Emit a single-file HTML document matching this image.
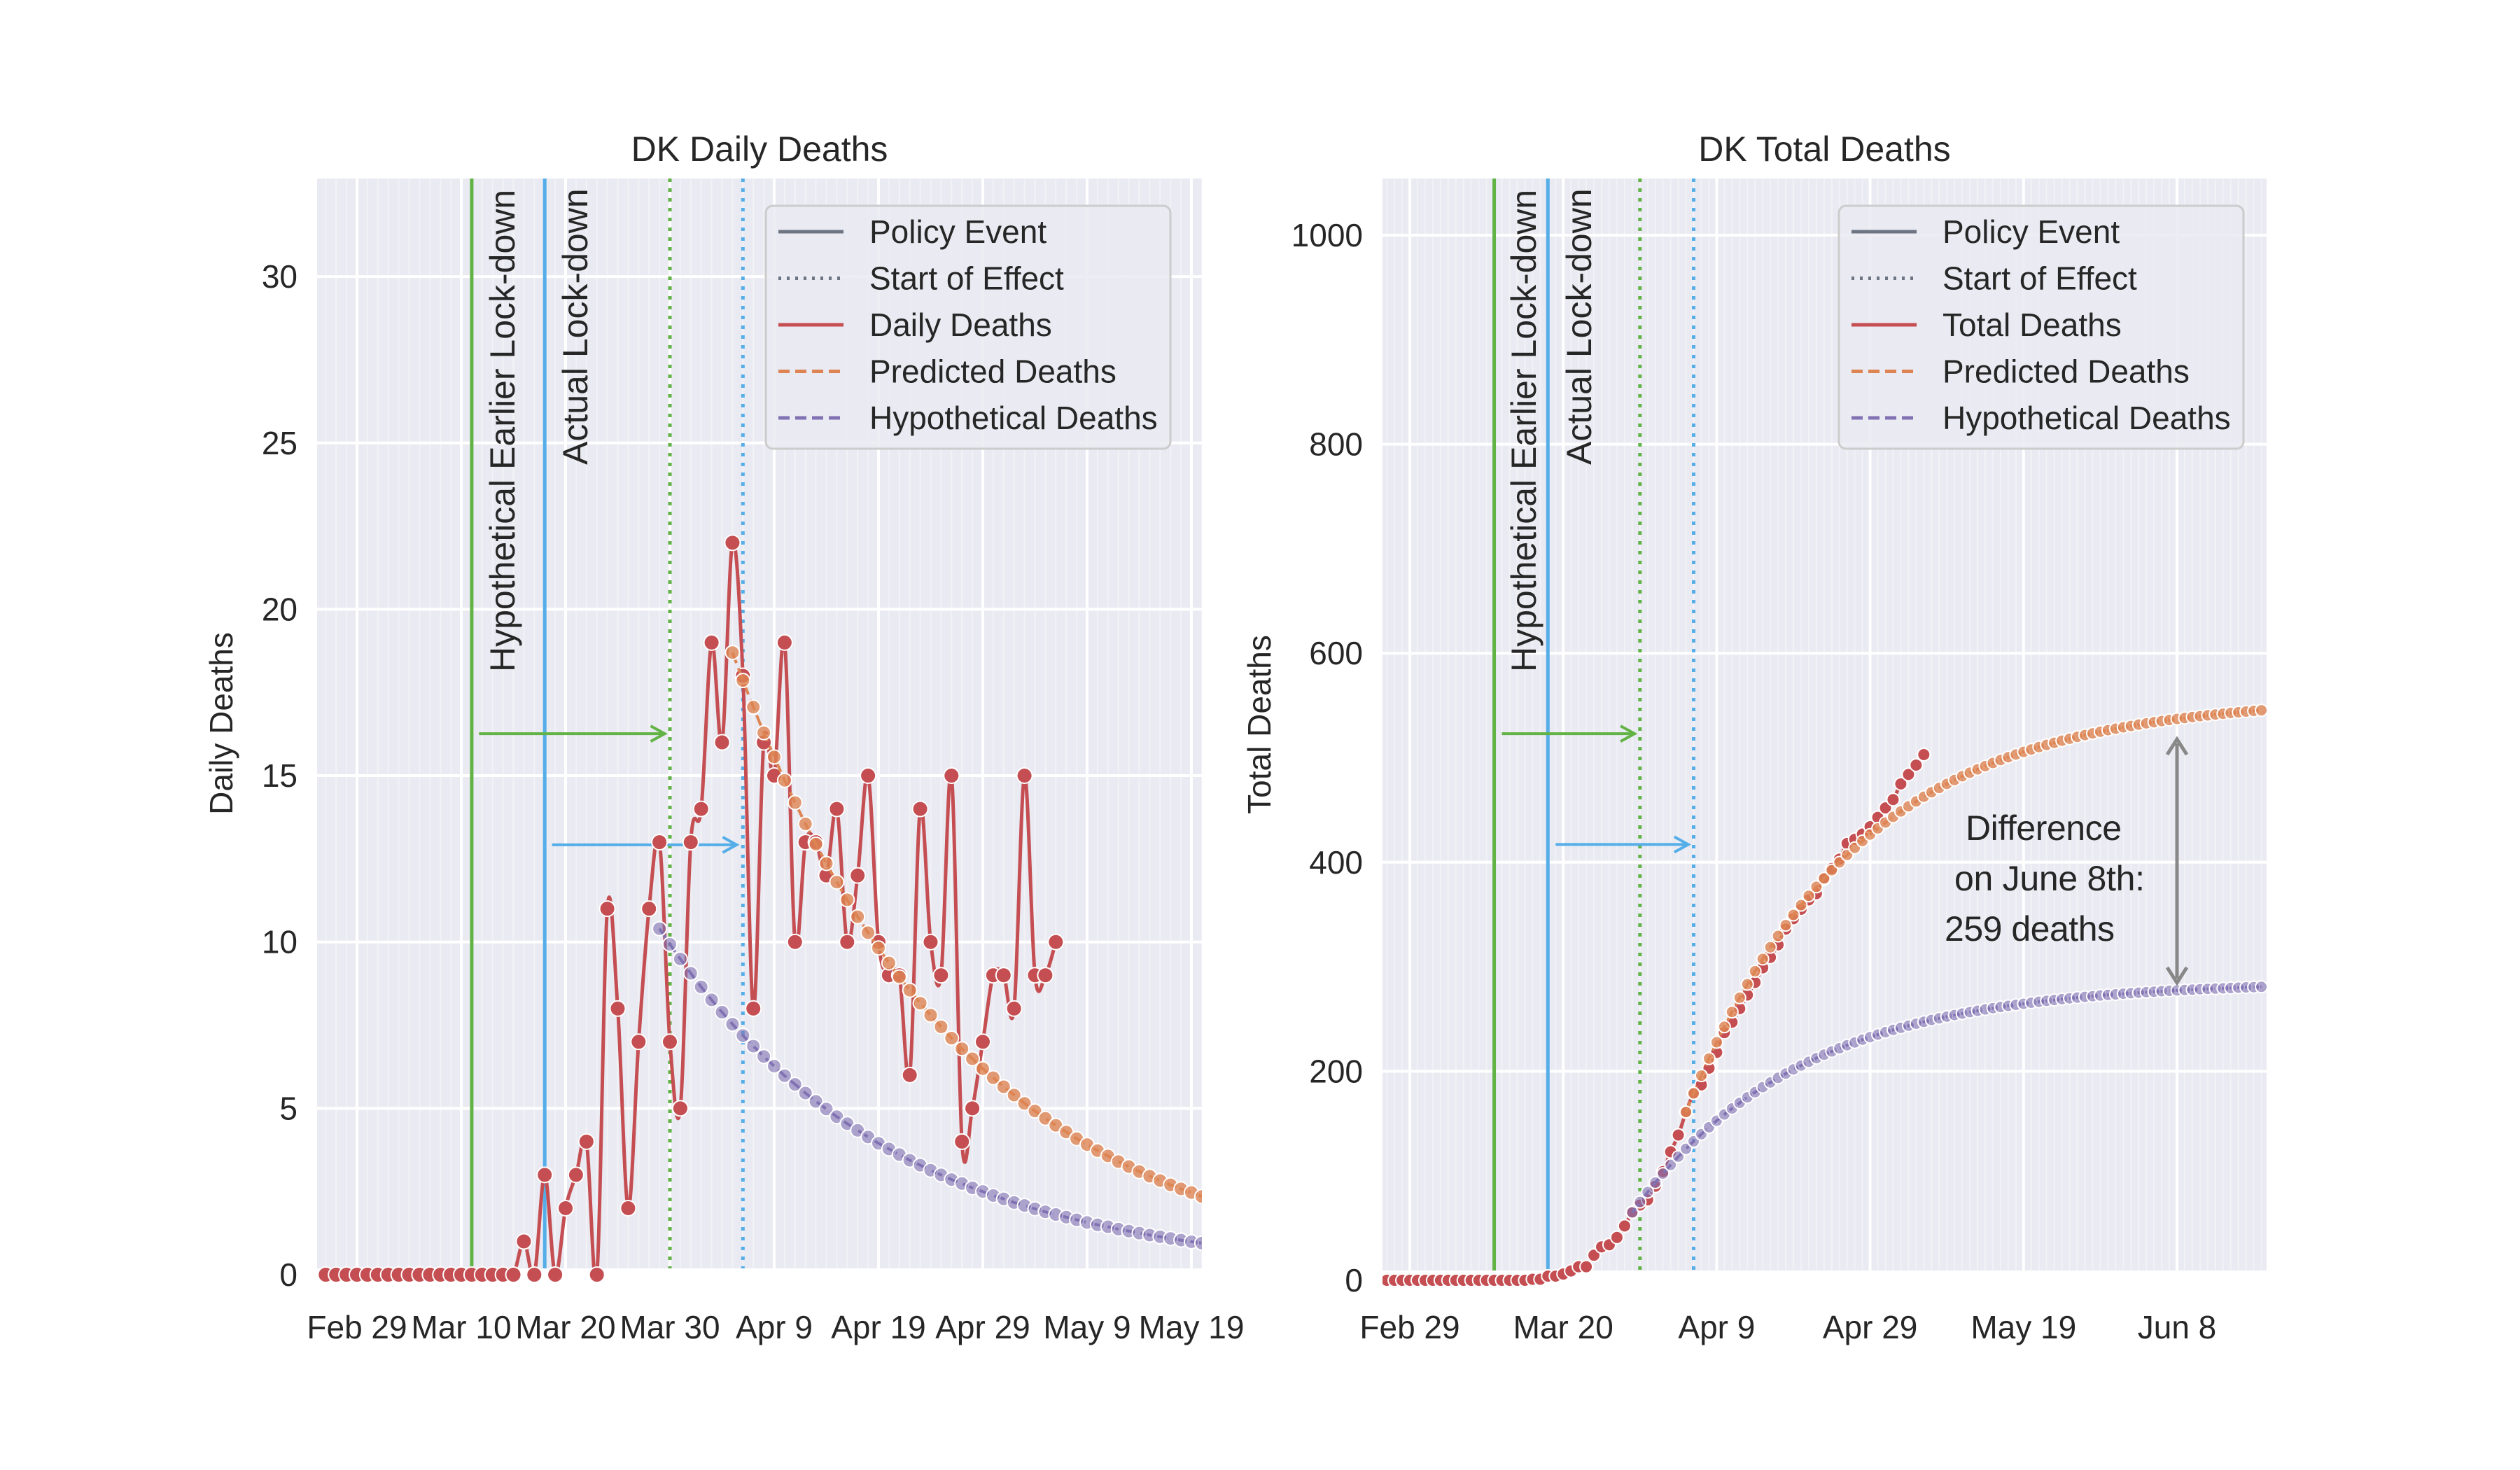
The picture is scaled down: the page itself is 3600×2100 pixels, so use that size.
<!DOCTYPE html>
<html><head><meta charset="utf-8"><style>
html,body{margin:0;padding:0;background:#fff;}
svg{display:block;font-family:"Liberation Sans",Arial,sans-serif;}
</style></head><body>
<svg id="fig" width="3600" height="2100" viewBox="0 0 3600 2100" xmlns="http://www.w3.org/2000/svg">
<defs>
<clipPath id="clipL"><rect x="453" y="255" width="1264" height="1557"/></clipPath>
<clipPath id="clipR"><rect x="1975" y="255" width="1263" height="1560"/></clipPath>
<clipPath id="clipLs"><rect x="453" y="255" width="1264" height="1620"/></clipPath>
<clipPath id="clipRs"><rect x="1975" y="255" width="1263" height="1620"/></clipPath>
</defs>
</svg>
<script>
// ---------- data (day index relative to Feb 29) ----------
const dailyStart = -3;
const dailyDeaths = [0,0,0,0,0,0,0,0,0,0,0,0,0,0,0,0,0,0,0,
1,0,3,0,2,3,4,0,11,8,2,7,11,13,7,5,13,14,19,16,22,18,8,16,15,19,10,13,13,12,14,10,12,15,10,9,9,6,14,10,9,15,4,5,7,9,9,8,15,9,9,10];
const predStart = 36;
const predictedDaily = [18.7,17.86,17.06,16.29,15.56,14.86,14.19,13.55,12.94,12.36,11.80,11.27,10.76,10.28,9.82,9.37,8.95,8.55,8.16,7.80,7.45,7.11,6.79,6.49,6.19,5.92,5.65,5.40,5.15,4.92,4.70,4.49,4.29,4.09,3.91,3.73,3.57,3.40,3.25,3.10,2.96,2.83,2.70,2.58,2.47,2.35];
const hypoStart = 29;
const hypotheticalDaily = [10.4,9.93,9.49,9.06,8.65,8.26,7.89,7.53,7.19,6.87,6.56,6.27,5.98,5.72,5.46,5.21,4.98,4.75,4.54,4.34,4.14,3.95,3.78,3.61,3.44,3.29,3.14,3.00,2.86,2.74,2.61,2.50,2.38,2.28,2.17,2.08,1.98,1.89,1.81,1.73,1.65,1.57,1.50,1.44,1.37,1.31,1.25,1.19,1.14,1.09,1.04,0.99,0.95];
const totalDeaths = [0,0,0,0,0,0,0,0,0,0,0,0,0,0,0,0,0,0,0,
1,1,4,4,6,9,13,13,24,32,34,41,52,65,72,77,90,104,123,139,161,179,187,203,218,237,247,260,273,285,299,309,321,336,346,355,364,370,384,394,403,418,422,427,434,443,452,460,475,484,493,503];
const predictedTotal = [161,178.9,195.9,212.2,227.8,242.6,256.8,270.4,283.3,295.7,307.5,318.7,329.5,339.8,349.6,359.0,367.9,376.5,384.6,392.4,399.9,407.0,413.8,420.3,426.5,432.4,438.0,443.4,448.6,453.5,458.2,462.7,467.0,471.1,475.0,478.7,482.3,485.7,488.9,492.0,495.0,497.8,500.5,503.1,505.6,507.9,510.2,512.3,514.3,516.3,518.2,520.0,521.7,523.3,524.9,526.4,527.8,529.1,530.4,531.7,532.9,534.0,535.1,536.1,537.1,538.0,538.9,539.8,540.6,541.4,542.1,542.9,543.5,544.2,544.8,545.4];
const hypotheticalTotal = [65,74.9,84.4,93.5,102.1,110.4,118.3,125.8,133.0,139.8,146.4,152.7,158.7,164.4,169.8,175.1,180.0,184.8,189.3,193.7,197.8,201.8,205.5,209.1,212.6,215.9,219.0,222.0,224.9,227.6,230.2,232.7,235.1,237.4,239.6,241.6,243.6,245.5,247.3,249.1,250.7,252.3,253.8,255.2,256.6,257.9,259.2,260.4,261.5,262.6,263.6,264.6,265.6,266.5,267.4,268.2,269.0,269.8,270.5,271.2,271.8,272.5,273.1,273.6,274.2,274.7,275.2,275.7,276.1,276.6,277.0,277.4,277.8,278.1,278.5,278.8,279.1,279.4,279.7,280.0,280.3,280.5,280.8];
const policyDays = [11, 18];
const effectDays = [30, 37];
const xTickDaysL = [0,10,20,30,40,50,60,70,80];
const xTickLabelsL = ["Feb 29","Mar 10","Mar 20","Mar 30","Apr 9","Apr 19","Apr 29","May 9","May 19"];
const xTickDaysR = [0,20,40,60,80,100];
const xTickLabelsR = ["Feb 29","Mar 20","Apr 9","Apr 29","May 19","Jun 8"];
const yTicksL = [0,5,10,15,20,25,30];
const yTicksR = [0,200,400,600,800,1000];

const NS="http://www.w3.org/2000/svg";
const svg=document.getElementById('fig');
function el(tag,attrs,parent,text){const e=document.createElementNS(NS,tag);for(const k in attrs)e.setAttribute(k,attrs[k]);if(text!==undefined)e.textContent=text;(parent||svg).appendChild(e);return e;}

const C={red:'#c44e52',orange:'#dd8452',purple:'#8172b3',green:'#62b346',blue:'#56aee8',gray:'#6e7582',text:'#262626'};

function smoothPath(pts){
  if(pts.length<2)return '';
  let d='M'+pts[0][0]+','+pts[0][1];
  for(let i=0;i<pts.length-1;i++){
    const p0=pts[i-1]||pts[i],p1=pts[i],p2=pts[i+1],p3=pts[i+2]||p2;
    const c1x=p1[0]+(p2[0]-p0[0])/6,c1y=p1[1]+(p2[1]-p0[1])/6;
    const c2x=p2[0]-(p3[0]-p1[0])/6,c2y=p2[1]-(p3[1]-p1[1])/6;
    d+=' C'+c1x.toFixed(1)+','+c1y.toFixed(1)+' '+c2x.toFixed(1)+','+c2y.toFixed(1)+' '+p2[0].toFixed(1)+','+p2[1].toFixed(1);
  }
  return d;
}
function linePath(pts){return pts.map((p,i)=>(i?'L':'M')+p[0].toFixed(1)+','+p[1].toFixed(1)).join(' ');}

function buildPanel(cfg){
  const g=el('g',{});
  
  
  const {x0,x1,y0,y1,xs,ys}=cfg;
  const bg=el('rect',{x:x0,y:y0,width:x1-x0,height:y1-y0,fill:'#eaeaf2'},g);
  
  
  const mg=el('g',{'clip-path':'url(#'+cfg.clip+')'},g);
  
  
  for(let d=-10;d<130;d++){const x=xs(d);if(x<x0||x>x1)continue;el('line',{x1:x,x2:x,y1:y0,y2:y1,stroke:'#ffffff','stroke-opacity':0.35,'stroke-width':2},mg);}
  cfg.yTicks.forEach(v=>{const y=ys(v);
    if(y<=y1){
      const l=el('line',{x1:x0,x2:x1,y1:y,y2:y,stroke:'#fff','stroke-width':4},g);
      
      
    }
    const t=el('text',{x:x0-28,y:y+16,'text-anchor':'end','font-size':46,fill:C.text},g,String(v));
    
    
  });
  cfg.xTickDays.forEach((d,i)=>{const x=xs(d);
    const l=el('line',{x1:x,x2:x,y1:y0,y2:y1,stroke:'#fff','stroke-width':4},g);
    
    
    const t=el('text',{x:x,y:1912,'text-anchor':'middle','font-size':46,fill:C.text},g,cfg.xTickLabels[i]);
    
    
  });
  const inner=el('g',{'clip-path':'url(#'+cfg.clip+')'},g);
  [C.green,C.blue].forEach((col,i)=>{
    const l=el('line',{x1:xs(policyDays[i]),x2:xs(policyDays[i]),y1:y0,y2:y1,stroke:col,'stroke-width':5},inner);
    
    
    const e=el('line',{x1:xs(effectDays[i]),x2:xs(effectDays[i]),y1:y0,y2:y1,stroke:col,'stroke-width':5,'stroke-dasharray':'5,9'},inner);
    
    
  });
  cfg.arrows.forEach((a,i)=>{
    const col=i?C.blue:C.green;const xa=xs(a[0]),xb=xs(a[1]),y=ys(a[2]);
    const ag=el('g',{},inner);
    
    
    el('line',{x1:xa,x2:xb-4,y1:y,y2:y,stroke:col,'stroke-width':4},ag);
    el('path',{d:`M${xb-20},${y-11} L${xb},${y} L${xb-20},${y+11}`,fill:'none',stroke:col,'stroke-width':4},ag);
  });
  const t1=el('text',{transform:`translate(${cfg.lab1x},960) rotate(-90)`,'font-size':50,fill:C.text},g,'Hypothetical Earlier Lock-down');
  
  
  const t2=el('text',{transform:`translate(${cfg.lab2x},664) rotate(-90)`,'font-size':50,fill:C.text},g,'Actual Lock-down');
  
  
  const sInner=el('g',{'clip-path':'url(#'+cfg.sclip+')'},g);
  function series(vals,start,col,name,dashed,r,alpha,smooth){
    const sg=el('g',{},sInner);
    
    
    const pts=vals.map((v,i)=>[xs(start+i),ys(v)]);
    el('path',{d:smooth?smoothPath(pts):linePath(pts),fill:'none',stroke:col,'stroke-width':dashed?4:5,'stroke-dasharray':dashed?'16,8':'none','stroke-linejoin':'round'},sg);
    pts.forEach(p=>{const c=el('circle',{cx:p[0],cy:p[1],r:r,fill:col,'fill-opacity':alpha,stroke:'#fff','stroke-width':2},sg);
      
      });
  }
  series(cfg.red,dailyStart,C.red,cfg.redName,false,cfg.rr,1,true);
  series(cfg.orange,cfg.oStart,C.orange,'predicted-deaths-series',true,cfg.r,0.8,false);
  series(cfg.purple,hypoStart,C.purple,'hypothetical-deaths-series',true,cfg.r,0.6,false);
  const tt=el('text',{x:(x0+x1)/2,y:230,'text-anchor':'middle','font-size':50,fill:C.text},g,cfg.title);
  
  
  const yl=el('text',{transform:`translate(${cfg.ylabx},${(y0+y1)/2}) rotate(-90)`,'text-anchor':'middle','font-size':46,fill:C.text},g,cfg.ylabel);
  
  
  const lg=el('g',{},g);
  
  
  const lx=cfg.legX;
  el('rect',{x:lx,y:294,width:578,height:347,rx:10,fill:'#eaeaf2','fill-opacity':0.85,stroke:'#cccccc','stroke-width':3},lg);
  const items=[['Policy Event',C.gray,'none'],['Start of Effect',C.gray,'4,8'],[cfg.redLabel,C.red,'none'],['Predicted Deaths',C.orange,'16,8'],['Hypothetical Deaths',C.purple,'16,8']];
  items.forEach((it,i)=>{const y=331+i*66.5;
    const eg=el('g',{},lg);
    
    
    el('line',{x1:lx+18,x2:lx+111,y1:y,y2:y,stroke:it[1],'stroke-width':5,'stroke-dasharray':it[2]},eg);
    el('text',{x:lx+148,y:y+16,'font-size':46,fill:C.text},eg,it[0]);
  });
  return inner;
}

const xL=d=>510+14.9*d, yL=v=>1821-47.53*v;
const xR=d=>2014+10.96*d, yR=v=>1829-1.493*v;

buildPanel({name:'daily-deaths-chart',x0:453,x1:1717,y0:255,y1:1812,xs:xL,ys:yL,clip:'clipL',sclip:'clipLs',
  yTicks:yTicksL,xTickDays:xTickDaysL,xTickLabels:xTickLabelsL,
  arrows:[[11.7,29.5,16.26],[18.7,36.4,12.92]],lab1x:735,lab2x:839,
  red:dailyDeaths,redName:'daily-deaths-series',redLabel:'Daily Deaths',orange:predictedDaily,oStart:predStart,purple:hypotheticalDaily,
  r:10,rr:11,title:'DK Daily Deaths',ylabel:'Daily Deaths',ylabx:332,legX:1094});

buildPanel({name:'total-deaths-chart',x0:1975,x1:3238,y0:255,y1:1815,xs:xR,ys:yR,clip:'clipR',sclip:'clipRs',
  yTicks:yTicksR,xTickDays:xTickDaysR,xTickLabels:xTickLabelsR,
  arrows:[[12,29.3,523],[19,36.3,417]],lab1x:2194,lab2x:2273,
  red:totalDeaths,redName:'total-deaths-series',redLabel:'Total Deaths',orange:predictedTotal,oStart:predStart,purple:hypotheticalTotal,
  r:8.5,rr:9,title:'DK Total Deaths',ylabel:'Total Deaths',ylabx:1815,legX:2627});

const ann=el('g',{});


const ax=xR(100), ya=1056, yb=1404;
el('line',{x1:ax,x2:ax,y1:ya+6,y2:yb-6,stroke:'#888','stroke-width':5},ann);
el('path',{d:`M${ax-14},${ya+22} L${ax},${ya} L${ax+14},${ya+22}`,fill:'none',stroke:'#888','stroke-width':5},ann);
el('path',{d:`M${ax-14},${yb-22} L${ax},${yb} L${ax+14},${yb-22}`,fill:'none',stroke:'#888','stroke-width':5},ann);
el('text',{x:2808,y:1200,'font-size':50,fill:C.text,textLength:223},ann,'Difference');
el('text',{x:2792,y:1272,'font-size':50,fill:C.text,textLength:272},ann,'on June 8th:');
el('text',{x:2778,y:1344,'font-size':50,fill:C.text,textLength:243},ann,'259 deaths');
</script>
</body></html>
